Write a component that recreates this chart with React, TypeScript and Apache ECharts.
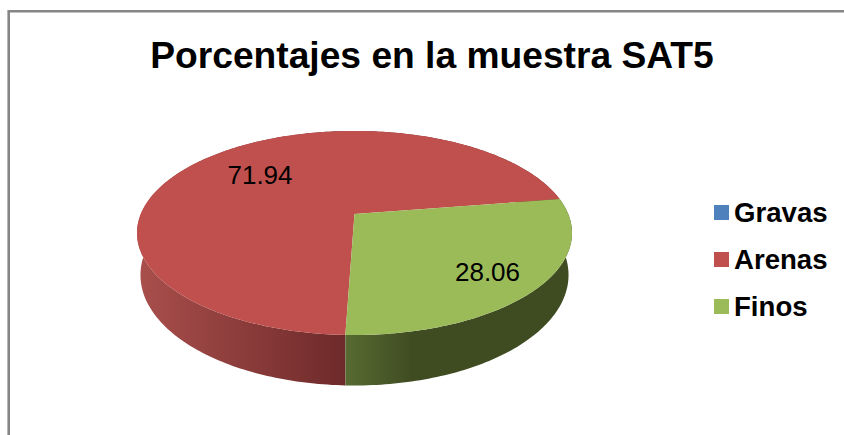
import React, { useEffect, useRef } from "react";
import * as echarts from "echarts";

const titleText = "Porcentajes en la muestra SAT5";
const categories = ["Gravas", "Arenas", "Finos"];
const values = [0, 71.94, 28.06];
const colors = ["#4F81BD", "#C0504D", "#9BBB59"];
const sideStops = [
  [],
  [[0, "#A94F4C"], [1, "#6E2A2A"]],
  [[0, "#586B32"], [0.3, "#3F4C22"], [1, "#3F4C22"]],
];
const sideRanges = [[0, 0], [137, 345], [345, 570]];
const labelCentres = [[0, 0], [260, 175], [487.5, 272]];

const firstSliceAngle = 182;
const CX = 354.5;
const C = -0.186;
const TOP = { A: 213.7, a: 58.7, b: 214 };
const BOTTOM = { A: 210.3, a: 59.35, b: 254.45 };

function project(p: { A: number; a: number; b: number }, u: number, v: number): number[] {
  const d = C * v + 1;
  return [CX + (p.A * u) / d, (p.a * v + p.b) / d];
}
function rim(p: { A: number; a: number; b: number }, deg: number): number[] {
  const r = (deg * Math.PI) / 180;
  return project(p, Math.sin(r), -Math.cos(r));
}
function arc(p: { A: number; a: number; b: number }, from: number, to: number): number[][] {
  const pts: number[][] = [];
  const n = Math.max(2, Math.ceil(to - from));
  for (let i = 0; i <= n; i++) pts.push(rim(p, from + ((to - from) * i) / n));
  return pts;
}

const total = values.reduce((s, v) => s + v, 0);

function makeRenderItem(idx: number) {
  return (_params: any, api: any) => {
    const value = api.value(0);
    if (!value) return { type: "group", children: [] };
    const before = values.slice(0, idx).reduce((s, v) => s + v, 0);
    const from = firstSliceAngle + (before / total) * 360;
    const to = from + (value / total) * 360;
    const topArc = arc(TOP, from, to);
    const bottomArc = arc(BOTTOM, from, to).reverse();
    const [gx0, gx1] = sideRanges[idx];
    const fill = new echarts.graphic.LinearGradient(
      gx0, 0, gx1, 0,
      (sideStops[idx] as any[]).map((s) => ({ offset: s[0], color: s[1] })),
      true
    );
    return {
      type: "group",
      children: [
        { type: "polygon", z2: 1, shape: { points: [...topArc, ...bottomArc] }, style: { fill } },
        {
          type: "polygon",
          z2: 2,
          shape: { points: [project(TOP, 0, 0), ...topArc] },
          style: { fill: colors[idx] },
        },
        {
          type: "text",
          z2: 3,
          x: labelCentres[idx][0],
          y: labelCentres[idx][1],
          style: {
            text: value.toFixed(2),
            fill: "#000",
            font: "26px 'Liberation Sans'",
            align: "center",
            verticalAlign: "middle",
          },
        },
      ],
    };
  };
}

export default function App() {
  const ref = useRef<HTMLDivElement>(null);
  useEffect(() => {
    document.body.style.margin = "0";
    const chart = echarts.init(ref.current!, undefined, { renderer: "svg" });
    chart.setOption({
      animation: false,
      backgroundColor: "#fff",
      title: {
        text: titleText,
        left: 427,
        top: 31,
        textAlign: "center",
        textStyle: { fontFamily: "Liberation Sans", fontWeight: "bold", fontSize: 37.2, color: "#000" },
      },
      legend: {
        orient: "vertical",
        left: 709,
        top: 193.5,
        itemWidth: 15,
        itemHeight: 15,
        itemGap: 19,
        icon: "rect",
        selectedMode: false,
        data: categories,
        textStyle: { fontFamily: "Liberation Sans", fontWeight: "bold", fontSize: 27.6, color: "#000" },
      },
      graphic: [
        {
          type: "rect",
          silent: true,
          shape: { x: 8.7, y: 11.3, width: 1000, height: 600 },
          style: { fill: "none", stroke: "#868686", lineWidth: 2.6 },
        },
      ],
      series: categories.map((name, i) => ({
        type: "custom",
        name,
        coordinateSystem: "none",
        silent: true,
        itemStyle: { color: colors[i] },
        data: [[values[i]]],
        renderItem: makeRenderItem(i),
      })),
    });
    return () => chart.dispose();
  }, []);
  return <div ref={ref} style={{ position: "absolute", left: 0, top: 0, width: 844, height: 435 }} />;
}
